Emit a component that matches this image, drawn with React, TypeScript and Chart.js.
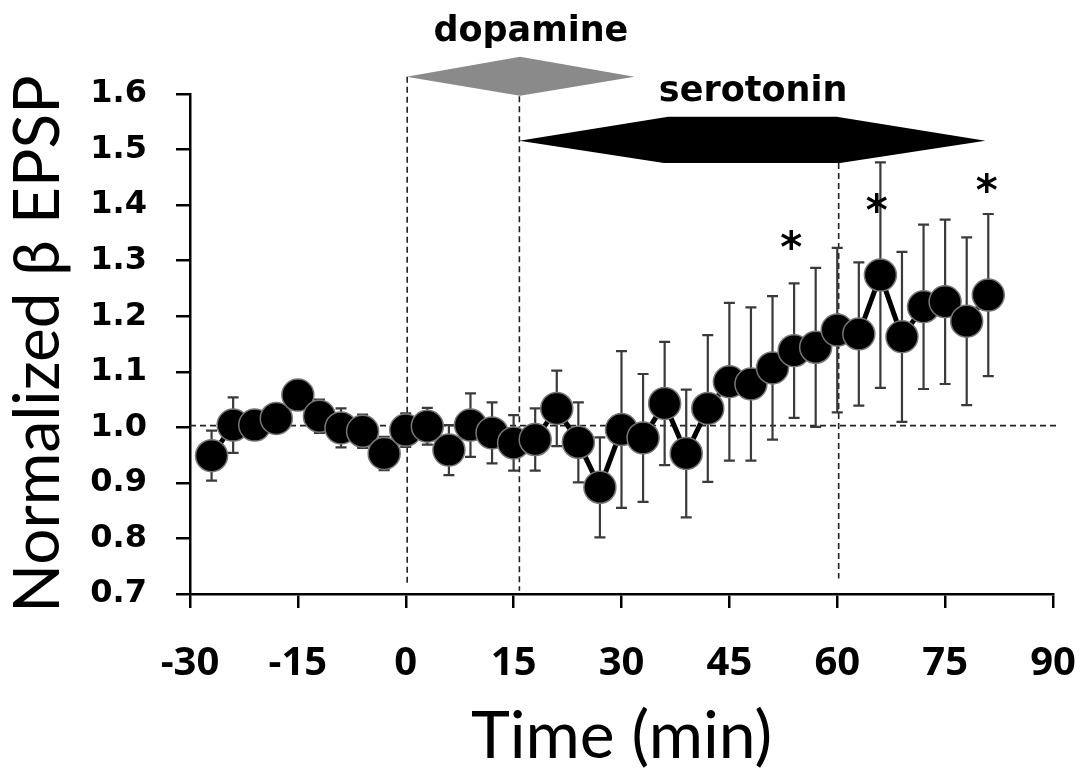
import React, { useEffect, useRef } from "react";
import { Chart, registerables } from "chart.js";

Chart.register(...registerables);

// ---- data ----
const times = [-27, -24, -21, -18, -15, -12, -9, -6, -3, 0, 3, 6, 9, 12, 15, 18, 21, 24, 27, 30, 33, 36, 39, 42, 45, 48, 51, 54, 57, 60, 63, 66, 69, 72, 75, 78, 81];
const means = [0.949, 1.004, 1.004, 1.016, 1.058, 1.02, 0.999, 0.993, 0.953, 0.995, 1.002, 0.959, 1.004, 0.99, 0.972, 0.978, 1.034, 0.973, 0.892, 0.996, 0.981, 1.043, 0.953, 1.034, 1.082, 1.078, 1.107, 1.138, 1.144, 1.175, 1.168, 1.274, 1.163, 1.217, 1.226, 1.191, 1.238];
const sems = [0.045, 0.05, 0.02, 0.02, 0.025, 0.03, 0.035, 0.03, 0.03, 0.03, 0.033, 0.045, 0.057, 0.055, 0.05, 0.056, 0.068, 0.072, 0.09, 0.141, 0.115, 0.111, 0.115, 0.132, 0.142, 0.138, 0.129, 0.121, 0.143, 0.148, 0.129, 0.203, 0.153, 0.148, 0.148, 0.151, 0.146];

const xTickValues = [-30, -15, 0, 15, 30, 45, 60, 75, 90];
const yTickValues = [0.7, 0.8, 0.9, 1.0, 1.1, 1.2, 1.3, 1.4, 1.5, 1.6];

const baselineValue = 1.003;
const baselineEnd = 90.8;
const eventTimes = [0.2, 15.8, 60.2];
const eventTops = [1.631, 1.596, 1.476];
const eventBottoms = [0.719, 0.706, 0.728];

const dopamineT = [0.1, 15.9, 31.8, 15.9];
const dopamineV = [1.631, 1.667, 1.631, 1.597];
const serotoninT = [15.8, 36.5, 59.9, 80.6, 60.4, 35.9];
const serotoninV = [1.516, 1.559, 1.559, 1.516, 1.476, 1.476];

const drugLabels = ["dopamine", "serotonin"];
const drugLabelT = [17.4, 48.3];
const drugLabelV = [1.695, 1.587];

const starT = [53.6, 65.5, 80.8];
const starV = [1.342, 1.409, 1.446];

const overlayPlugin = {
  id: "overlay",
  beforeDatasetsDraw(chart: any) {
    const ctx = chart.ctx;
    const xs = chart.scales.x;
    const ys = chart.scales.y;
    ctx.save();
    // horizontal baseline
    ctx.strokeStyle = "#222";
    ctx.lineWidth = 1.6;
    ctx.setLineDash([6, 4]);
    ctx.beginPath();
    ctx.moveTo(chart.chartArea.left, ys.getPixelForValue(baselineValue));
    ctx.lineTo(xs.getPixelForValue(baselineEnd), ys.getPixelForValue(baselineValue));
    ctx.stroke();
    // vertical event lines
    eventTimes.forEach((t, i) => {
      const px = xs.getPixelForValue(t);
      ctx.beginPath();
      ctx.moveTo(px, ys.getPixelForValue(eventTops[i]));
      ctx.lineTo(px, ys.getPixelForValue(eventBottoms[i]));
      ctx.stroke();
    });
    ctx.setLineDash([]);
    // error bars
    ctx.strokeStyle = "#3a3a3a";
    ctx.lineWidth = 2.2;
    const cap = 5.5;
    times.forEach((t, i) => {
      const px = xs.getPixelForValue(t);
      const top = ys.getPixelForValue(means[i] + sems[i]);
      const bot = ys.getPixelForValue(means[i] - sems[i]);
      ctx.beginPath();
      ctx.moveTo(px, top);
      ctx.lineTo(px, bot);
      ctx.moveTo(px - cap, top);
      ctx.lineTo(px + cap, top);
      ctx.moveTo(px - cap, bot);
      ctx.lineTo(px + cap, bot);
      ctx.stroke();
    });
    ctx.restore();
  },
  afterDatasetsDraw(chart: any) {
    const ctx = chart.ctx;
    const xs = chart.scales.x;
    const ys = chart.scales.y;
    ctx.save();
    const poly = (tt: number[], vv: number[], color: string) => {
      ctx.fillStyle = color;
      ctx.beginPath();
      tt.forEach((t, i) => {
        const px = xs.getPixelForValue(t);
        const py = ys.getPixelForValue(vv[i]);
        if (i === 0) ctx.moveTo(px, py);
        else ctx.lineTo(px, py);
      });
      ctx.closePath();
      ctx.fill();
    };
    poly(dopamineT, dopamineV, "#8a8a8a");
    poly(serotoninT, serotoninV, "#000");
    ctx.fillStyle = "#000";
    ctx.textAlign = "center";
    ctx.textBaseline = "alphabetic";
    ctx.font = "bold 35px 'DejaVu Sans'";
    drugLabels.forEach((s, i) => {
      ctx.fillText(s, xs.getPixelForValue(drugLabelT[i]), ys.getPixelForValue(drugLabelV[i]));
    });
    ctx.font = "bold 42px 'DejaVu Sans'";
    starT.forEach((t, i) => {
      ctx.fillText("*", xs.getPixelForValue(t), ys.getPixelForValue(starV[i]) + 25);
    });
    ctx.restore();
  },
};

const zeroPad = (s: any) => {
  s.paddingLeft = 0;
  s.paddingRight = 0;
  s.paddingTop = 0;
  s.paddingBottom = 0;
};

export default function App() {
  const ref = useRef<HTMLCanvasElement | null>(null);
  useEffect(() => {
    document.body.style.margin = "0";
    const canvas = ref.current!;
    const chart = new Chart(canvas, {
      type: "line",
      data: {
        datasets: [
          {
            data: times.map((t, i) => ({ x: t, y: means[i] })),
            borderColor: "#000",
            borderWidth: 5,
            pointRadius: 16,
            pointHoverRadius: 16,
            pointBackgroundColor: "#000",
            pointBorderColor: "#777",
            pointBorderWidth: 1.5,
            fill: false,
            tension: 0,
            clip: false as any,
          },
        ],
      },
      options: {
        animation: false,
        responsive: false,
        devicePixelRatio: 1,
        layout: { padding: { top: 94, right: 30, left: 0, bottom: 0 } },
        plugins: { legend: { display: false }, tooltip: { enabled: false } },
        scales: {
          x: {
            type: "linear",
            min: -30,
            max: 90,
            afterBuildTicks: (s: any) => {
              s.ticks = xTickValues.map((v) => ({ value: v }));
            },
            afterFit: (s: any) => {
              s.height = 177;
              zeroPad(s);
            },
            grid: { drawOnChartArea: false, drawTicks: true, tickLength: 14, color: "#000", lineWidth: 2.5 },
            border: { display: true, color: "#000", width: 2.5 },
            ticks: {
              color: "#000",
              padding: 36,
              font: { family: "'Open Sans'", size: 40, weight: "bold", lineHeight: 1 },
              callback: (v: any) => String(v),
            },
            title: {
              display: true,
              text: "Time (min)",
              color: "#000",
              font: { family: "Lato", size: 66, lineHeight: 1 },
              padding: { top: 0, bottom: 1 },
            },
          },
          y: {
            type: "linear",
            min: 0.7,
            max: 1.6,
            afterBuildTicks: (s: any) => {
              s.ticks = yTickValues.map((v) => ({ value: v }));
            },
            afterFit: (s: any) => {
              s.width = 190;
              zeroPad(s);
            },
            grid: { drawOnChartArea: false, drawTicks: true, tickLength: 14, color: "#000", lineWidth: 2.5 },
            border: { display: true, color: "#000", width: 2.5 },
            ticks: {
              color: "#000",
              padding: 29,
              font: { family: "'DejaVu Sans'", size: 32, weight: "bold", lineHeight: 1 },
              callback: (v: any) => Number(v).toFixed(1),
            },
            title: {
              display: true,
              text: "Normalized β EPSP",
              color: "#000",
              font: { family: "Lato", size: 64, lineHeight: 1 },
              padding: { top: 6, bottom: 0 },
            },
          },
        },
      },
      plugins: [overlayPlugin],
    });
    return () => chart.destroy();
  }, []);
  return (
    <div style={{ position: "fixed", left: 0, top: 0, width: 1083, height: 771, background: "#fff" }}>
      <canvas ref={ref} width={1083} height={771} />
    </div>
  );
}
